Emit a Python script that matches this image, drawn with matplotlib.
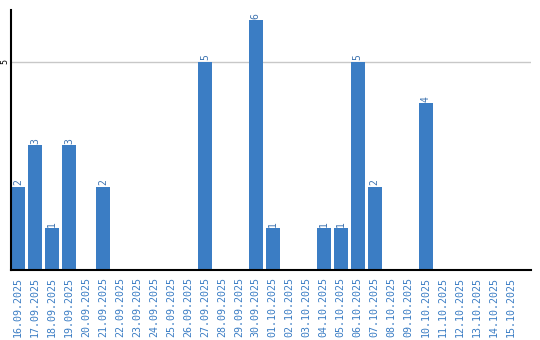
import matplotlib
matplotlib.use("Agg")
import matplotlib.pyplot as plt

dates = ["16.09.2025", "17.09.2025", "18.09.2025", "19.09.2025", "20.09.2025",
         "21.09.2025", "22.09.2025", "23.09.2025", "24.09.2025", "25.09.2025",
         "26.09.2025", "27.09.2025", "28.09.2025", "29.09.2025", "30.09.2025",
         "01.10.2025", "02.10.2025", "03.10.2025", "04.10.2025", "05.10.2025",
         "06.10.2025", "07.10.2025", "08.10.2025", "09.10.2025", "10.10.2025",
         "11.10.2025", "12.10.2025", "13.10.2025", "14.10.2025", "15.10.2025"]
counts = [2, 3, 1, 3, 0, 2, 0, 0, 0, 0, 0, 5, 0, 0, 6,
          1, 0, 0, 1, 1, 5, 2, 0, 0, 4, 0, 0, 0, 0, 0]

BLUE = "#3b7dc4"

fig = plt.figure(figsize=(5.4, 3.4), dpi=100)
ax = fig.add_axes([11 / 540, 1 - 270 / 340, 520 / 540, 260 / 340])

x = range(len(dates))
bars = ax.bar(x, counts, width=0.82, color=BLUE, zorder=2)
for xi, v in zip(x, counts):
    if v:
        ax.text(xi, v + 0.03, str(v), rotation=90, ha="center", va="bottom",
                fontsize=7, color="#3f74b0", family="DejaVu Sans Mono")

ax.set_xlim(-0.41, 30.2)
ax.set_ylim(0, 6.24)
ax.set_yticks([5])
ax.set_yticklabels(["5"], rotation=90, va="center", fontsize=6,
                   family="DejaVu Sans Mono")
ax.tick_params(axis="y", length=0, pad=1)
ax.axhline(5, color="#c8c8c8", lw=1, zorder=1)

ax.set_xticks(list(x))
ax.set_xticklabels(dates, rotation=90, fontsize=7.2, color=BLUE,
                   family="DejaVu Sans Mono")
ax.tick_params(axis="x", length=0, pad=5)

for side in ("top", "right"):
    ax.spines[side].set_visible(False)
ax.spines["left"].set_linewidth(1.5)
ax.spines["bottom"].set_linewidth(1.5)

fig.savefig("out.png", dpi=100)
